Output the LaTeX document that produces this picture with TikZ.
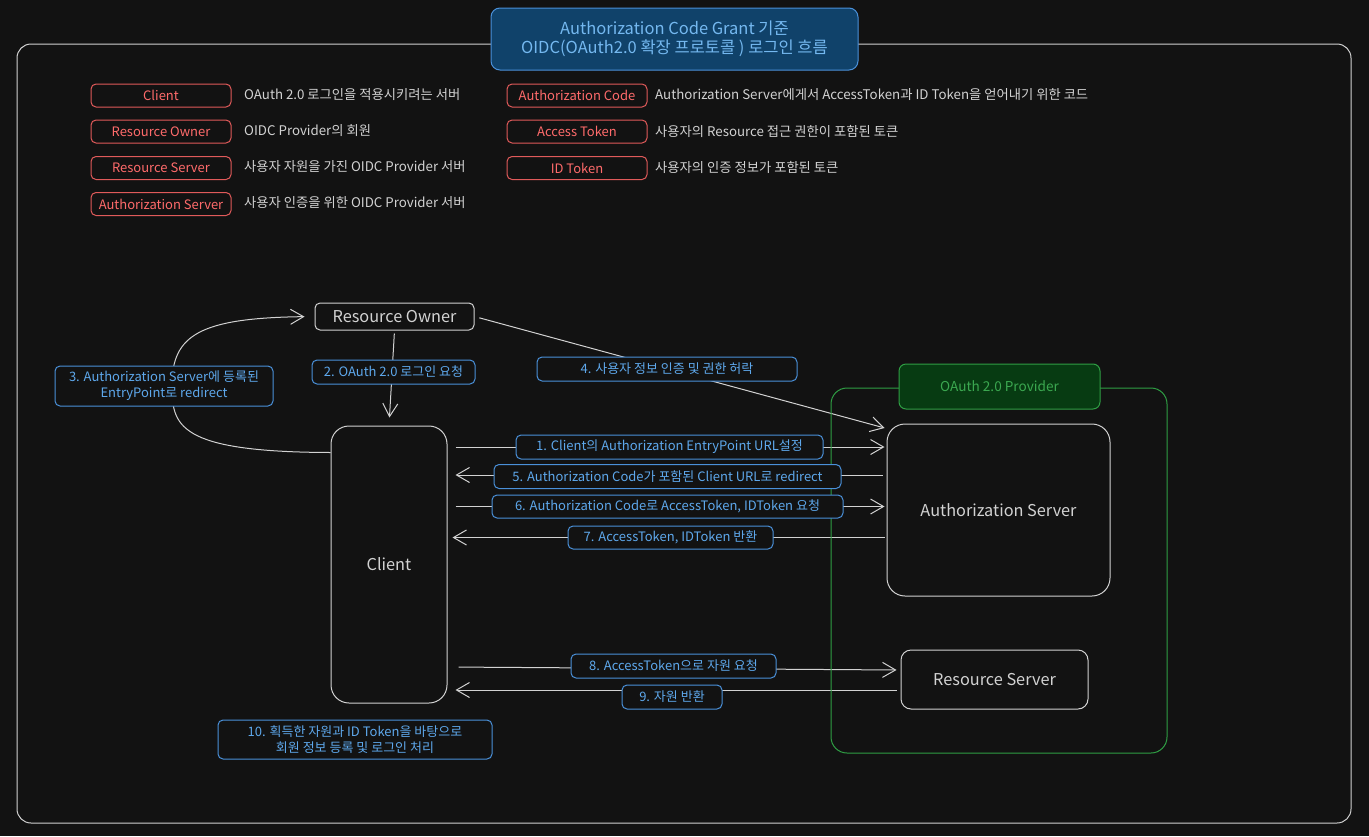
\documentclass[tikz,border=0pt]{standalone}
\usepackage{fontspec}
\setmainfont{Noto Sans CJK KR}
\usetikzlibrary{arrows.meta,calc}
\definecolor{bgc}{HTML}{121212}
\definecolor{linec}{HTML}{D2D2D2}
\definecolor{redb}{HTML}{E05A5A}
\definecolor{redt}{HTML}{FF6B6B}
\definecolor{blueb}{HTML}{4A90D9}
\definecolor{bluet}{HTML}{5EA8EC}
\definecolor{greenb}{HTML}{2F9E44}
\definecolor{greenf}{HTML}{073B12}
\definecolor{greent}{HTML}{3BA850}
\definecolor{titlef}{HTML}{10426A}
\definecolor{titlet}{HTML}{74B8F0}
\pgfdeclarelayer{bglayer}
\pgfdeclarelayer{lines}
\pgfsetlayers{bglayer,lines,main}
\tikzset{
  legbox/.style={draw=redb, fill=bgc, text=redt, line width=1pt, rounded corners=5pt,
    minimum width=140pt, minimum height=23pt, inner sep=0pt, font=\fontsize{13}{15}\selectfont},
  legtext/.style={anchor=west, text=linec, inner sep=0pt, font=\fontsize{13.3}{15}\selectfont},
  lbl/.style={draw=blueb, fill=bgc, text=bluet, line width=1pt, rounded corners=5pt,
    inner sep=0pt, align=center, font=\fontsize{13}{16}\selectfont},
  ent/.style={draw=linec, fill=bgc, text=linec, line width=1pt, rounded corners=8pt,
    inner sep=0pt, font=\fontsize{16.3}{18}\selectfont},
  conn/.style={draw=linec, line width=1pt, -{Straight Barb[length=13pt,width=15pt,line width=1pt]}},
}
\begin{document}
\begin{tikzpicture}[x=1pt,y=-1pt]
\begin{pgfonlayer}{bglayer}
\fill[bgc] (0,0) rectangle (1369,836);
\end{pgfonlayer}
\useasboundingbox (0,0) rectangle (1369,836);
% outer frame
\draw[linec, line width=1pt, rounded corners=14pt] (17,44) rectangle (1351,823);
% title
\node[draw=blueb, fill=titlef, text=titlet, line width=1pt, rounded corners=9pt,
  minimum width=367pt, minimum height=62pt, inner sep=0pt, align=center,
  font=\fontsize{16.5}{18.5}\selectfont] (title) at (674.5,39)
  {Authorization Code Grant 기준\\OIDC(OAuth2.0 확장 프로토콜 ) 로그인 흐름};
% legend left
\node[legbox] (lc) at (161,95.5) {Client};
\node[legtext] (lcd) at (244,95) {OAuth 2.0 로그인을 적용시키려는 서버};
\node[legbox] (lro) at (161,131.5) {Resource Owner};
\node[legtext] (lrod) at (244,131) {OIDC Provider의 회원};
\node[legbox] (lrs) at (161,168) {Resource Server};
\node[legtext] (lrsd) at (244,167) {사용자 자원을 가진 OIDC Provider 서버};
\node[legbox] (las) at (161,204) {Authorization Server};
\node[legtext] (lasd) at (244,203) {사용자 인증을 위한 OIDC Provider 서버};
% legend right
\node[legbox] (lac) at (577,95.5) {Authorization Code};
\node[legtext] (lacd) at (655,95) {Authorization Server에게서 AccessToken과 ID Token을 얻어내기 위한 코드};
\node[legbox] (lat) at (577,131.5) {Access Token};
\node[legtext] (latd) at (655,131) {사용자의 Resource 접근 권한이 포함된 토큰};
\node[legbox] (lit) at (577,168) {ID Token};
\node[legtext] (litd) at (655,167) {사용자의 인증 정보가 포함된 토큰};
% provider container
\draw[greenb, line width=1pt, rounded corners=16pt] (831,388) rectangle (1167,753);
\node[draw=greenb, fill=greenf, text=greent, line width=1pt, rounded corners=7pt,
  minimum width=201pt, minimum height=45pt, inner sep=0pt,
  font=\fontsize{13.6}{15}\selectfont] (prov) at (999.5,386.5) {OAuth 2.0 Provider};
% entities
\node[ent, minimum width=159pt, minimum height=27pt, rounded corners=5pt] (ro) at (394.5,316.5) {Resource Owner};
\node[ent, minimum width=116pt, minimum height=277pt, rounded corners=18pt] (cl) at (389,564.5) {Client};
\node[ent, minimum width=223pt, minimum height=172pt, rounded corners=18pt] (as) at (998.5,510) {Authorization Server};
\node[ent, minimum width=187pt, minimum height=59pt, rounded corners=10pt] (rs) at (994.5,679.5) {Resource Server};
% labels
\node[lbl, minimum width=163pt, minimum height=24pt] (l2) at (393.5,372) {2. OAuth 2.0 로그인 요청};
\node[lbl, minimum width=218pt, minimum height=40pt] (l3) at (164,386) {3. Authorization Server에 등록된\\EntryPoint로 redirect};
\node[lbl, minimum width=260pt, minimum height=24pt] (l4) at (667,369) {4. 사용자 정보 인증 및 권한 허락};
\node[lbl, minimum width=307pt, minimum height=24pt] (l1) at (669.5,447) {1. Client의 Authorization EntryPoint URL설정};
\node[lbl, minimum width=347pt, minimum height=24pt] (l5) at (667.5,476.5) {5. Authorization Code가 포함된 Client URL로 redirect};
\node[lbl, minimum width=351pt, minimum height=23pt] (l6) at (667.5,506.5) {6. Authorization Code로 AccessToken, IDToken 요청};
\node[lbl, minimum width=205pt, minimum height=23pt] (l7) at (670.5,537.5) {7. AccessToken, IDToken 반환};
\node[lbl, minimum width=205pt, minimum height=24pt] (l8) at (673.5,666) {8. AccessToken으로 자원 요청};
\node[lbl, minimum width=100pt, minimum height=24pt] (l9) at (672,697) {9. 자원 반환};
\node[lbl, minimum width=274pt, minimum height=39pt] (l10) at (355,739.5) {10. 획득한 자원과 ID Token을 바탕으로\\회원 정보 등록 및 로그인 처리};
% connectors
\begin{pgfonlayer}{lines}
\draw[conn, shorten <=3pt, shorten >=8pt] (ro.south) -- (cl.north);
\coordinate (c3s) at ($(cl.north west)+(0,27)$);
\draw[conn, shorten >=10pt] (c3s) .. controls (176,452) and (172,425) .. (172,385)
  .. controls (172,335) and (200,318) .. (ro.west);
\draw[conn, shorten <=5pt, shorten >=2pt] (ro.east) -- ($(as.north west)+(0,5)$);
\draw[conn, shorten <=8pt, shorten >=2pt] (cl.east |- l1) -- (as.west |- l1);
\draw[conn, shorten <=4pt, shorten >=8pt] ($(as.west |- l5)+(0,-1.5)$) -- ($(cl.east |- l5)+(0,-1.5)$);
\draw[conn, shorten <=8pt, shorten >=2pt] (cl.east |- l6) -- (as.west |- l6);
\draw[conn, shorten <=2pt, shorten >=5pt] (as.west |- l7) -- (cl.east |- l7);
\draw[conn, shorten <=11pt, shorten >=4pt] ($(cl.east |- l8)+(0,1)$) -- ($(rs.west |- l8)+(0,4)$);
\draw[conn, shorten <=4pt, shorten >=8pt] ($(rs.west)+(0,10.5)$) -- ($(cl.east |- rs.west)+(0,10.5)$);
\end{pgfonlayer}
\end{tikzpicture}
\end{document}
